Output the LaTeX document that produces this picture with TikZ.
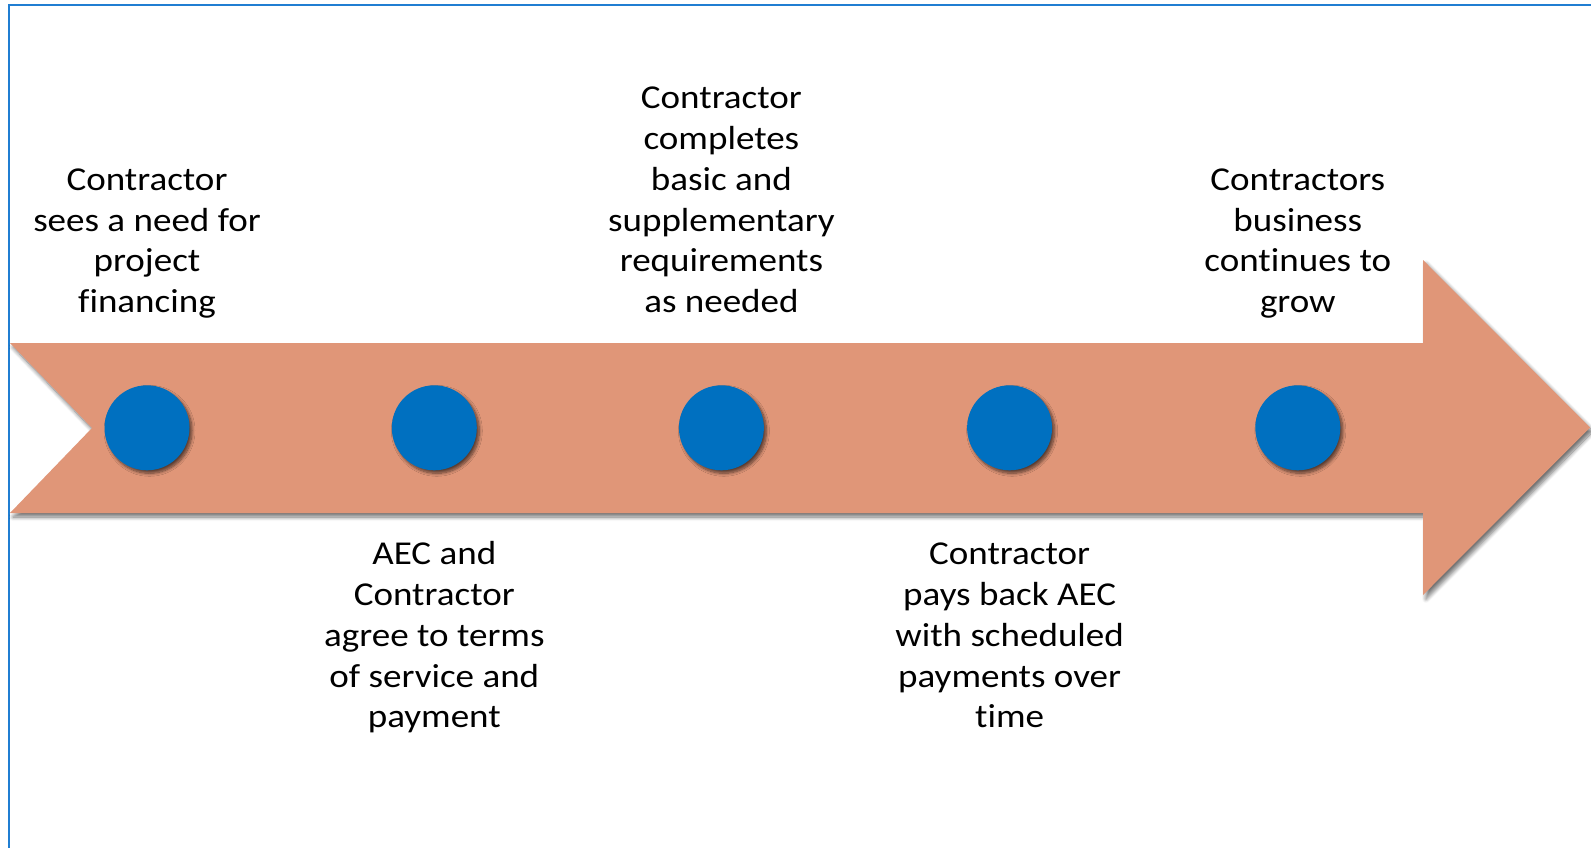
\documentclass[tikz,border=0pt]{standalone}
\usepackage{fontspec}
\setmainfont{Carlito}[FakeStretch=1.11, Ligatures={NoCommon,NoRare}]
\usetikzlibrary{shadows.blur}

\definecolor{arrowfill}{RGB}{224,150,120}
\definecolor{dotblue}{RGB}{0,112,192}
\definecolor{frameblue}{RGB}{32,126,210}

% struts that fix the top of the first line and the bottom of the last line
\newcommand\tlStrutHi{\rule{0pt}{30bp}}
\newcommand\tlStrutLo{\rule[-12bp]{0pt}{12bp}}

\begin{document}
\begin{tikzpicture}[x=1bp,y=-1bp,
  dot/.style={circle, fill=dotblue, minimum size=85bp, inner sep=0pt,
    blur shadow={shadow xshift=2.5bp, shadow yshift=-3bp, shadow opacity=60,
      shadow blur radius=3bp, shadow blur steps=8}},
  label/.style={align=center, inner sep=0pt, text=black,
    font=\fontsize{33.5}{40.9}\selectfont},
  toplabel/.style={label, anchor=south},
  botlabel/.style={label, anchor=north}]

\useasboundingbox (0,0) rectangle (1591,847);

% frame
\draw[frameblue, line width=2.5bp] (9,850) -- (9,5) -- (1595,5);

% timeline arrow
\fill[arrowfill, blur shadow={shadow xshift=3bp, shadow yshift=-4bp,
    shadow opacity=55, shadow blur radius=4bp, shadow blur steps=8}]
  (10,343) -- (1423,343) -- (1423,260) -- (1590,427.5) -- (1423,595)
  -- (1423,513) -- (10,513) -- (92,428) -- cycle;

% milestones
\node[dot] (d1) at (147,427.8) {};
\node[dot] (d2) at (434.3,427.8) {};
\node[dot] (d3) at (721.4,427.8) {};
\node[dot] (d4) at (1009.6,427.8) {};
\node[dot] (d5) at (1297.8,427.8) {};

% texts above the arrow
\node[toplabel] (t1) at (147,324.7)
  {Contractor\\sees a need for\\project\\financing\tlStrutLo};
\node[toplabel] (t3) at (721.4,324.7)
  {Contractor\\completes\\basic and\\supplementary\\requirements\\as needed\tlStrutLo};
\node[toplabel] (t5) at (1297.8,324.7)
  {Contractors\\business\\continues to\\grow\tlStrutLo};

% texts below the arrow
\node[botlabel] (t2) at (434.3,534.7)
  {\tlStrutHi AEC and\\Contractor\\agree to terms\\of service and\\payment};
\node[botlabel] (t4) at (1009.6,534.7)
  {\tlStrutHi Contractor\\pays back AEC\\with scheduled\\payments over\\time};

\end{tikzpicture}
\end{document}
